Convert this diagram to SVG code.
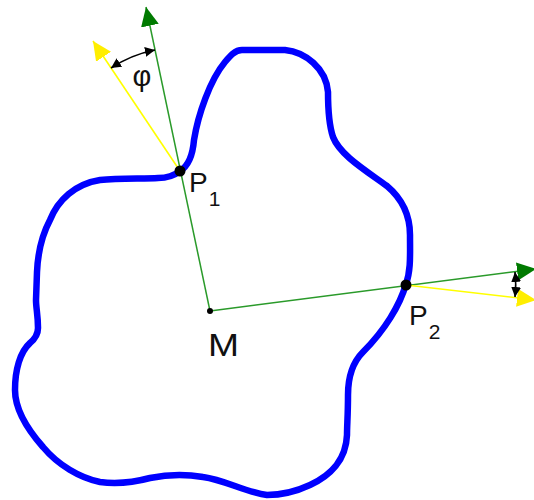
<svg xmlns="http://www.w3.org/2000/svg" width="534" height="500" viewBox="0 0 534 500">
<style>
.blob{fill:none;stroke:#0000ff;stroke-width:6.5;stroke-linejoin:round;stroke-linecap:round}
.g{stroke:#2a9a2a;stroke-width:1.5;fill:none}
.y{stroke:#ffff00;stroke-width:1.6;fill:none}
.ang{stroke:#000;stroke-width:1.6;fill:none}
.lbl{font-family:"Liberation Sans",Arial,sans-serif;fill:#111}
.sub{font-size:21px}
</style>
<defs>
<marker id="ag" markerUnits="userSpaceOnUse" markerWidth="20" markerHeight="18" refX="19" refY="9" orient="auto" viewBox="0 0 20 18"><path d="M0,0 L19,9 L0,18 z" fill="#007a00"/></marker>
<marker id="ay" markerUnits="userSpaceOnUse" markerWidth="20" markerHeight="18" refX="19" refY="9" orient="auto" viewBox="0 0 20 18"><path d="M0,0 L19,9 L0,18 z" fill="#ffee00"/></marker>
<marker id="ab" markerUnits="userSpaceOnUse" markerWidth="11" markerHeight="10" refX="10" refY="5" orient="auto-start-reverse" viewBox="0 0 11 10"><path d="M0,0 L10,5 L0,10 z" fill="#000"/></marker>
</defs>
<g id="contour">
<path class="blob" d="M180,171 C190,165 193,152 194,140 C198,115 210,80 225,62 C230,56 235,50 242,50 L285,50 C305,52 326,68 328,92 C328,105 328,122 333,137 C340,155 365,170 387,186 C400,197 410,212 410,235 C410,255 411,270 406,284 C400,305 385,330 363,352 C352,363 348,378 348,395 C348,415 347,425 347,435 C346,460 330,476 310,485 C295,492 280,495 267,495 C245,492 225,480 203,477 C185,474 165,475 150,478 C135,482 115,484 100,482 C80,478 58,465 43,447 C28,430 15,410 15,390 C15,370 20,352 30,343 C36,338 38,333 38,328 C38,315 36,308 36,300 L37,272 C38,250 42,235 50,220 C58,200 75,184 100,180 C120,178 145,179 158,178 C168,178 175,175 180,171"/>
</g>
<g id="connectors">
<line class="g" x1="210" y1="311" x2="146" y2="7" marker-end="url(#ag)"/>
<line class="g" x1="210" y1="311" x2="536" y2="269" marker-end="url(#ag)"/>
<line class="y" x1="180" y1="171" x2="93" y2="41" marker-end="url(#ay)"/>
<line class="y" x1="406" y1="285" x2="536" y2="300" marker-end="url(#ay)"/>
<path class="ang" d="M111,68 A124,124 0 0,1 155,50" marker-start="url(#ab)" marker-end="url(#ab)"/>
<path class="ang" d="M515,272 A110,110 0 0,1 515,297" marker-start="url(#ab)" marker-end="url(#ab)"/>
</g>
<g id="M">
<circle cx="210" cy="311" r="3" fill="#000"/>
<text class="lbl" x="208" y="356" font-size="32" textLength="31" lengthAdjust="spacingAndGlyphs">M</text>
</g>
<g id="P1">
<circle cx="180" cy="171" r="5.5" fill="#000"/>
<text class="lbl" x="189" y="192" font-size="28">P<tspan class="sub" dx="1" dy="14">1</tspan></text>
</g>
<g id="P2">
<circle cx="406" cy="285" r="5.5" fill="#000"/>
<text class="lbl" x="409" y="325" font-size="28">P<tspan class="sub" dx="1" dy="14">2</tspan></text>
</g>
<g id="phi">
<text class="lbl" x="142" y="86" font-size="29" text-anchor="middle">φ</text>
</g>
</svg>
